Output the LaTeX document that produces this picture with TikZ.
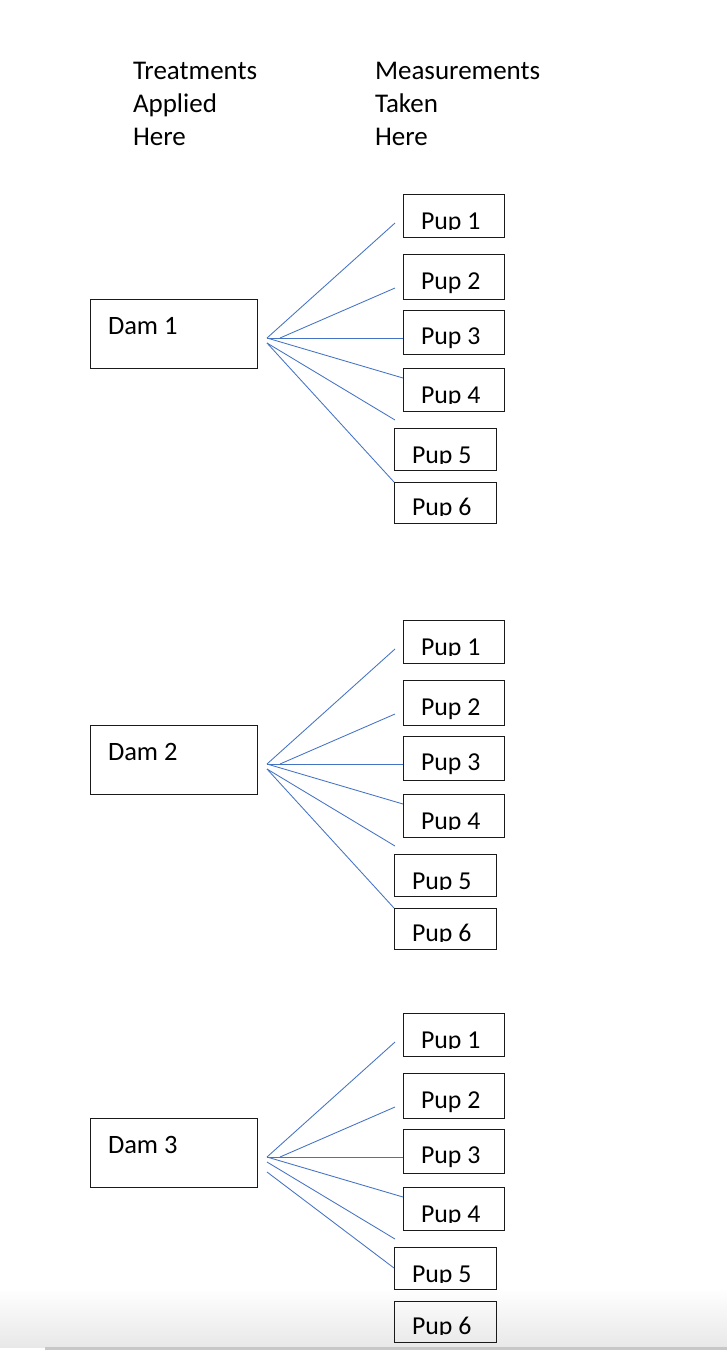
\documentclass[tikz,border=0pt]{standalone}
\usepackage{fontspec}
\setmainfont{Carlito}
\usetikzlibrary{calc}
\definecolor{lineblue}{HTML}{4472C4}
\definecolor{boxline}{HTML}{1A1A1A}
\tikzset{
  every node/.style={font=\fontsize{25.8}{30}\selectfont},
  boxstyle/.style={draw=boxline, line width=1pt, inner sep=0pt, outer sep=0pt},
  labeltext/.style={anchor=base west, inner sep=0pt, outer sep=0pt, text=black},
  headtext/.style={labeltext, font=\fontsize{27}{32}\selectfont},
  damtext/.style={labeltext, font=\fontsize{26.5}{32}\selectfont},
  conn/.style={draw=lineblue, line width=0.85pt},
}
\begin{document}
\begin{tikzpicture}[x=1pt,y=-1pt]
\useasboundingbox (0,0) rectangle (727,1350);
\fill[white] (0,0) rectangle (727,1350);
% bottom page shadow
\shade[top color=white, bottom color=black!9] (0,1288) rectangle (727,1347);
\fill[black!22] (45,1347) rectangle (727,1350);
% headers
\node[headtext] (h1) at (133,79) {Treatments};
\node[headtext] (h2) at (133,112) {Applied};
\node[headtext] (h3) at (133,145) {Here};
\node[headtext] (m1) at (375,79) {Measurements};
\node[headtext] (m2) at (375,112) {Taken};
\node[headtext] (m3) at (375,145) {Here};

\foreach \g/\dy in {1/0, 2/426, 3/819} {
  % dam box
  \node[boxstyle, minimum width=167pt, minimum height=69pt] (d\g) at (173.5,333.5+\dy) {};
  \node[damtext] (dt\g) at (108,334+\dy) {Dam \g};
  % pup boxes: index / x1 / x2 / y1 / y2 / text x / baseline / clipped
  \foreach \i/\xa/\xb/\ya/\yb/\tx/\bl/\cl in {
      1/403/504/194/237/421/229/1,
      2/403/504/254/299/421/289/0,
      3/403/504/310/354/421/344/0,
      4/403/504/368/411/421/403/1,
      5/394/496/428/470/412/463/1,
      6/394/496/482/523/412/515/1} {
    \node[boxstyle, minimum width=\xb-\xa, minimum height=\yb-\ya]
      (p\g-\i) at ({(\xa+\xb)/2},{(\ya+\yb)/2+\dy}) {};
    \begin{scope}
      \ifnum\cl=1
        \clip (\xa,\ya+\dy) rectangle (\xb,\bl+\dy);
      \fi
      \node[labeltext] (pt\g-\i) at (\tx,\bl+\dy) {Pup \i};
    \end{scope}
  }
  % connector points
  \coordinate (o\g) at (267,338+\dy);
  \coordinate (oa\g) at (280,338+\dy);
  \coordinate (ob\g) at (267,343+\dy);
  \coordinate (e\g-1) at (395,223+\dy);
  \coordinate (e\g-2) at (395,288+\dy);
  \coordinate (e\g-5) at (395,420+\dy);
  \draw[conn] (o\g) -- (e\g-1);
  \draw[conn] (oa\g) -- (e\g-2);
  \draw[conn] (o\g) -- (p\g-3.west |- o\g);
  \draw[conn] (o\g) -- ($(p\g-4.north west)+(0,10)$);
  \draw[conn] (ob\g) -- (e\g-5);
}
\draw[conn] (ob1) -- (p1-6.north west);
\draw[conn] (ob2) -- (p2-6.north west);
\coordinate (oc3) at (267,1172);
\draw[conn] (oc3) -- (p3-5.west);
\end{tikzpicture}
\end{document}
